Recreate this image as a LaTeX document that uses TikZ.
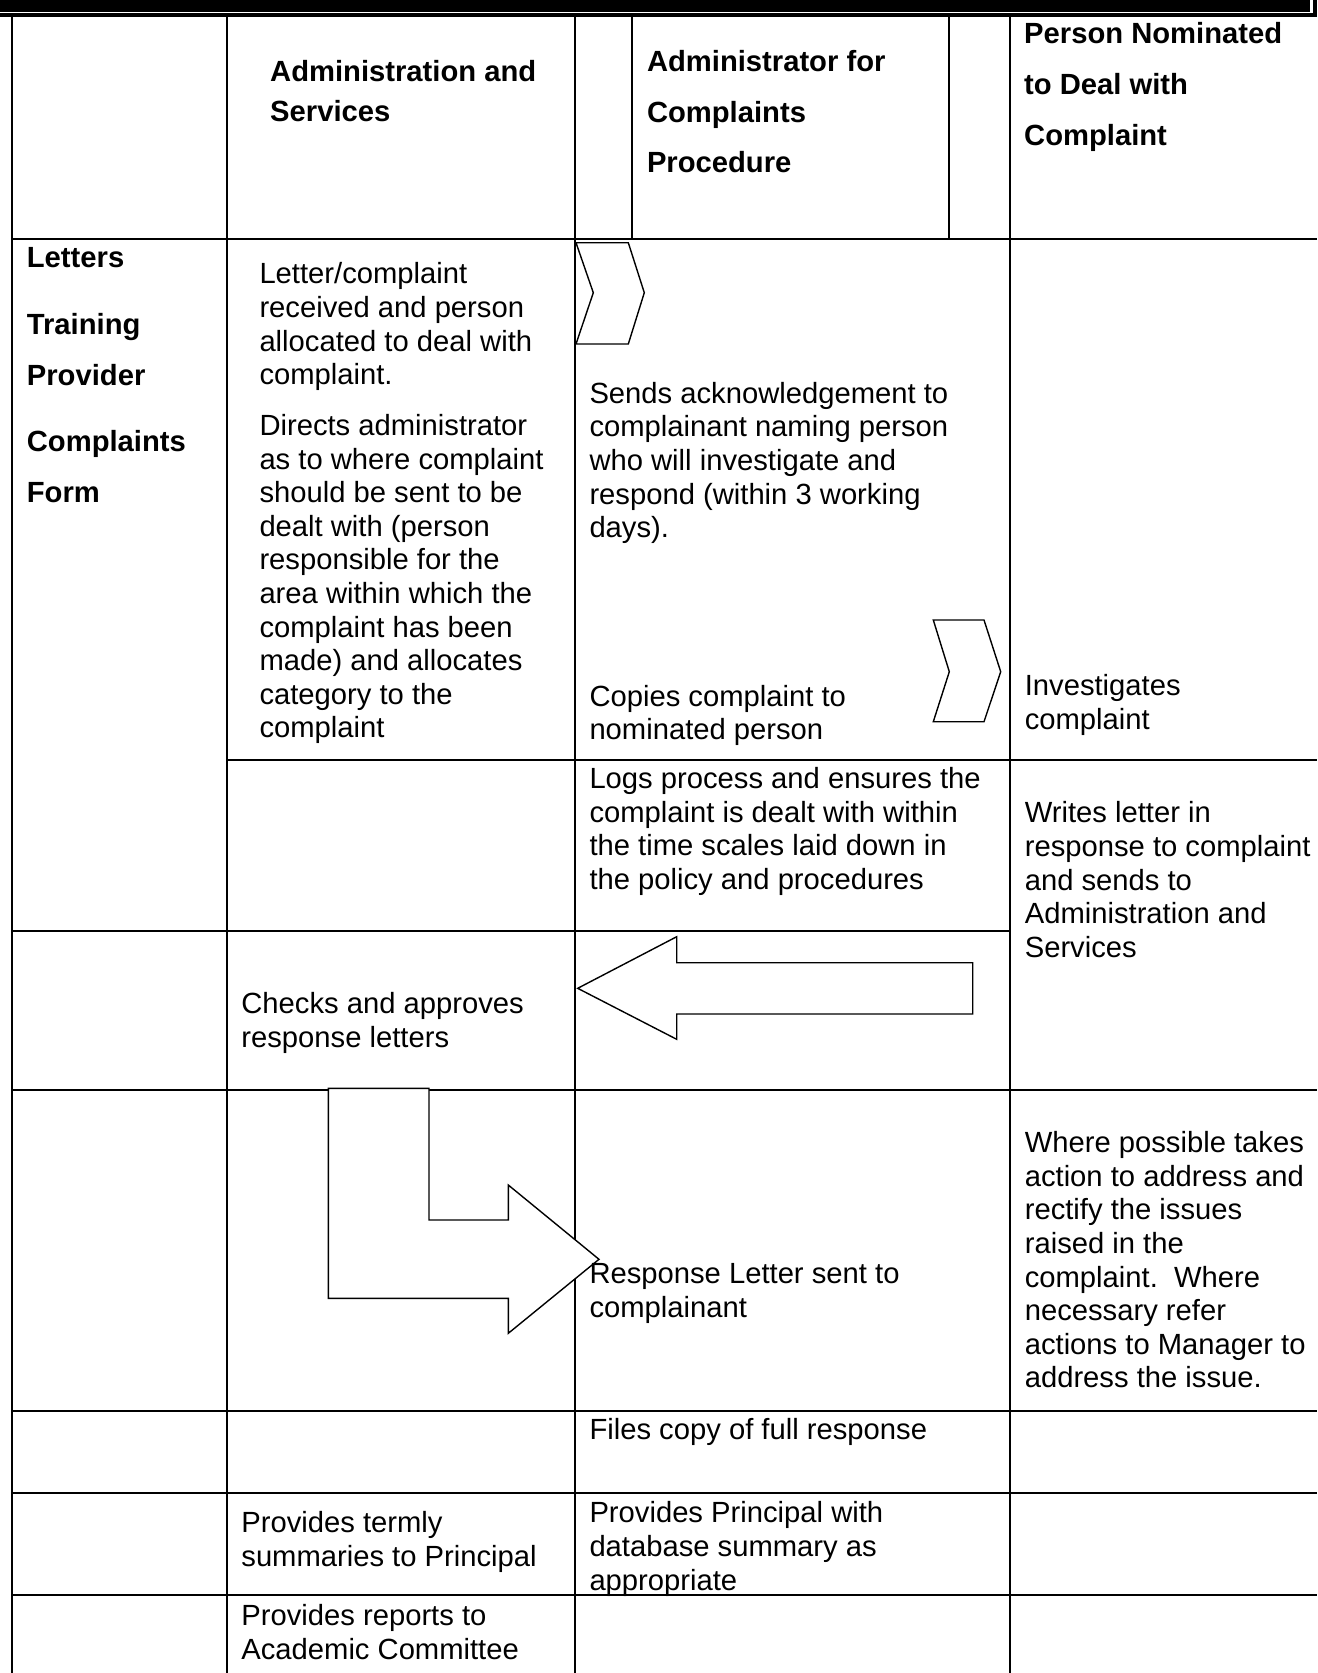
\documentclass[tikz,border=0pt]{standalone}
\usepackage{fontspec}
\setmainfont{Liberation Sans}
\newcommand\para[2]{\vtop{\baselineskip=#1pt\lineskiplimit=-1000pt\halign{##\hfil\cr#2\crcr}}}
\begin{document}
\begin{tikzpicture}[x=1pt,y=-1pt,
  grid/.style={line width=2.4pt},
  shapeline/.style={line width=1.4pt, fill=white, line join=miter},
  txt/.style={anchor=base west, inner sep=0pt, font=\fontsize{29.2}{33.6}\selectfont},
  hdr/.style={anchor=base west, inner sep=0pt, font=\bfseries\fontsize{29.2}{33.6}\selectfont}]
\useasboundingbox (0,0) rectangle (1317,1673);

% page border remnant at top
\fill (0,0) rectangle (1310,11.5);
\fill (0,13.3) rectangle (1317,16.5);
\fill (1313,0) rectangle (1317,16.5);

% table grid
\draw[grid] (12,15) -- (12,1673);
\draw[grid] (227,15) -- (227,1673);
\draw[grid] (575,15) -- (575,1673);
\draw[grid] (632,15) -- (632,239);
\draw[grid] (949,15) -- (949,239);
\draw[grid] (1010,15) -- (1010,1673);
\draw[grid] (12,239) -- (1317,239);
\draw[grid] (227,760) -- (1317,760);
\draw[grid] (12,930.7) -- (1010,930.7);
\draw[grid] (12,1090) -- (1317,1090);
\draw[grid] (12,1411) -- (1317,1411);
\draw[grid] (12,1493) -- (1317,1493);
\draw[grid] (12,1595) -- (1317,1595);

% chevrons and block arrows
\draw[shapeline] (576,242.7) -- (628.3,242.7) -- (644.3,292.7) -- (628.3,344) -- (576,344) -- (593.3,292.7) -- cycle;
\draw[shapeline] (933.3,620) -- (984,620) -- (1000.7,671.7) -- (984,721.7) -- (933.3,721.7) -- (949.3,671.7) -- cycle;
\draw[shapeline] (577.7,988.3) -- (676.7,936.7) -- (676.7,962.7) -- (972.7,962.7) -- (972.7,1014) -- (676.7,1014) -- (676.7,1039.3) -- cycle;
\draw[shapeline] (328.3,1088.3) -- (429,1088.3) -- (429,1220) -- (508.3,1220) -- (508.3,1185) -- (599,1259.3) -- (508.3,1333.3) -- (508.3,1298.3) -- (328.3,1298.3) -- cycle;

% header texts
\node[hdr] (hA) at (270,81) {\para{40.6}{Administration and\cr Services}};
\node[hdr] (hB) at (646.8,71.4) {\para{50.7}{Administrator for\cr Complaints\cr Procedure}};
\node[hdr] (hC) at (1024,43.7) {\para{50.7}{Person Nominated\cr to Deal with\cr Complaint}};

% left column
\node[hdr] (l1) at (26.7,267.8) {Letters};
\node[hdr] (l2) at (26.7,334) {\para{51.2}{Training\cr Provider}};
\node[hdr] (l3) at (26.7,451.4) {\para{51.2}{Complaints\cr Form}};

% body texts
\node[txt] (b1) at (259.3,283.8) {\para{33.6}{Letter/complaint\cr received and person\cr allocated to deal with\cr complaint.}};
\node[txt] (b2) at (259.3,435.4) {\para{33.6}{Directs administrator\cr as to where complaint\cr should be sent to be\cr dealt with (person\cr responsible for the\cr area within which the\cr complaint has been\cr made) and allocates\cr category to the\cr complaint}};
\node[txt] (c1) at (589.3,403.3) {\para{33.6}{Sends acknowledgement to\cr complainant naming person\cr who will investigate and\cr respond (within 3 working\cr days).}};
\node[txt] (c2) at (589.3,706) {\para{33.6}{Copies complaint to\cr nominated person}};
\node[txt] (d1) at (1024.6,695.8) {\para{33.6}{Investigates\cr complaint}};
\node[txt] (c3) at (589.3,788.6) {\para{33.6}{Logs process and ensures the\cr complaint is dealt with within\cr the time scales laid down in\cr the policy and procedures}};
\node[txt] (d2) at (1024.6,822.8) {\para{33.6}{Writes letter in\cr response to complaint\cr and sends to\cr Administration and\cr Services}};
\node[txt] (b3) at (241.2,1013.8) {\para{33.6}{Checks and approves\cr response letters}};
\node[txt] (c4) at (589.3,1283.9) {\para{33.6}{Response Letter sent to\cr complainant}};
\node[txt] (d3) at (1024.6,1152.6) {\para{33.6}{Where possible takes\cr action to address and\cr rectify the issues\cr raised in the\cr complaint.\ \ Where\cr necessary refer\cr actions to Manager to\cr address the issue.}};
\node[txt] (c5) at (589.3,1439.7) {Files copy of full response};
\node[txt] (b4) at (241.2,1532.5) {\para{33.6}{Provides termly\cr summaries to Principal}};
\node[txt] (c6) at (589.3,1522.9) {\para{33.6}{Provides Principal with\cr database summary as\cr appropriate}};
\node[txt] (b5) at (241.2,1625.4) {\para{33.6}{Provides reports to\cr Academic Committee}};
\end{tikzpicture}
\end{document}
